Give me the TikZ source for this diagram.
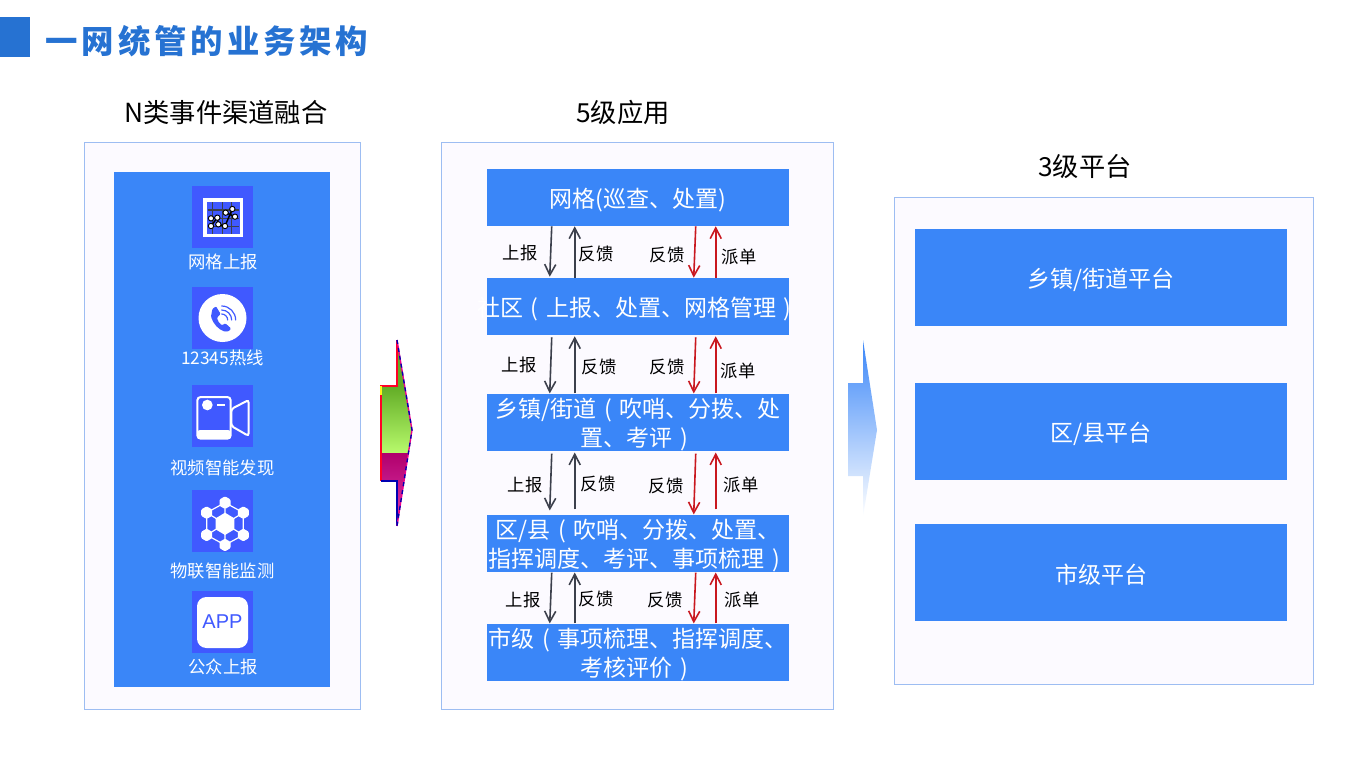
\documentclass[tikz,border=0pt]{standalone}
\usepackage{fontspec}
\setmainfont{Noto Sans CJK SC}
\newfontfamily\latinapp{Liberation Sans}
\usetikzlibrary{arrows.meta,calc,shapes.geometric}
\definecolor{boxblue}{HTML}{3A86F8}
\definecolor{iconblue}{HTML}{4059FF}
\definecolor{paneledge}{HTML}{9DBDF2}
\definecolor{panelfill}{HTML}{FCFAFF}
\definecolor{titleblue}{HTML}{2672D2}
\definecolor{arrdark}{HTML}{3C404C}
\definecolor{arrred}{HTML}{C9181F}
\definecolor{gtop}{HTML}{62AC26}
\definecolor{gbot}{HTML}{B8FA6C}
\definecolor{mtop}{HTML}{B0006C}
\definecolor{mbot}{HTML}{E23CB0}
\newcommand{\ovl}[1]{\makebox[0pt][c]{#1}}
\newcommand{\lpn}{\makebox[1em][c]{(}}
\newcommand{\rpn}{\makebox[1em][c]{)}}
\newcommand{\topstrut}{\rule{0pt}{18pt}}
\tikzset{
  panel/.style={draw=paneledge,fill=panelfill,line width=.75pt,inner sep=0pt},
  lvlbox/.style={fill=boxblue,draw=none,inner sep=0pt,minimum width=226.5pt,minimum height=42.75pt,text=white,align=center,font=\fontsize{17.25pt}{21.75pt}\selectfont},
  platbox/.style={fill=boxblue,draw=none,inner sep=0pt,minimum width=279pt,minimum height=72.75pt,text=white,align=center,font=\fontsize{17.25pt}{21.75pt}\selectfont},
  iconbg/.style={fill=iconblue,draw=none,inner sep=0pt,minimum width=45.75pt,minimum height=46.5pt},
  iconlbl/.style={text=white,inner sep=0pt,yshift=-.75pt,font=\fontsize{13pt}{15pt}\selectfont},
  heading/.style={text=black,inner sep=0pt,font=\fontsize{19.7pt}{23pt}\selectfont},
  small/.style={text=black,inner sep=0pt,yshift=-.75pt,font=\fontsize{13pt}{15pt}\selectfont},
  arrowd/.style={draw=arrdark,line width=1.2pt,-{Straight Barb[length=8pt,width=9pt,angle'=55]}},
  arrowr/.style={draw=arrred,line width=1.2pt,-{Straight Barb[length=8pt,width=9pt,angle'=55]}},
  zoomA/.style={shift={(110,170)},x=.25pt,y=-.25pt},
  zoomB/.style={shift={(110,440)},x=.25pt,y=-.25pt},
}
\begin{document}
\begin{tikzpicture}[x=.75pt,y=-.75pt]
\useasboundingbox (0,0) rectangle (1371,768);
% title
\fill[titleblue] (0,17) rectangle (30,57);
\node[text=titleblue,inner sep=0pt,font=\fontsize{24.3pt}{28pt}\bfseries\addfontfeature{LetterSpace=12}] (title) at (207,41) {一网统管的业务架构};
% headings
\node[heading] (h1) at (226,113) {N类事件渠道融合};
\node[heading] (h2) at (623,113) {5级应用};
\node[heading] (h3) at (1085,166) {3级平台};
% panels
\draw[panel] (84.5,142.5) rectangle (360,709.5);
\draw[panel] (441,142.5) rectangle (833.5,709.5);
\draw[panel] (894,197.5) rectangle (1313.5,684);
\fill[boxblue] (114,172) rectangle (330,687);
% icon backgrounds
\node[iconbg] (i1) at (222.5,217) {};
\node[iconbg] (i2) at (222.5,318) {};
\node[iconbg] (i3) at (222.5,416) {};
\node[iconbg] (i4) at (222.5,521) {};
\node[iconbg] (i5) at (222.5,622) {};
% icon 1: grid chart
\begin{scope}[zoomA]
  \draw[white,line width=2.4pt] (285,90) rectangle (394,197);
  \draw[arrdark,line width=.9pt] (308,96)--(308,191) (337,96)--(337,191) (365,96)--(365,191)
     (293,120)--(386,120) (293,145)--(386,145) (293,170)--(386,170);
  \draw[black,line width=1.1pt] (303,168)--(322,143)--(325,163)--(345,168)--(367,117) (303,145)--(322,143) (347,128)--(375,140);
  \foreach \p in {(303,145),(322,143),(303,168),(325,163),(345,168),(347,128),(375,140),(367,117)}
    \draw[black,fill=white,line width=.7pt] \p circle (8);
\end{scope}
% icon 2: phone
\fill[white] (222.5,318) circle (24);
\begin{scope}[zoomA]
  \fill[iconblue,rounded corners=.8pt] (318,409)--(307,417)--(303,440) .. controls (310,462) and (325,478) .. (345,485) --(358,483)--(363,475)--(346,460)--(336,466) .. controls (328,460) and (323,452) .. (321,443)--(332,432)--cycle;
  \draw[iconblue,line width=.9pt,line cap=round] (335,432) arc (-90:0:18);
  \draw[iconblue,line width=.9pt,line cap=round] (335,420) arc (-90:0:30);
  \draw[iconblue,line width=.9pt,line cap=round] (335,408) arc (-90:0:42);
\end{scope}
% icon 3: camera
\begin{scope}[zoomA]
  \draw[white,line width=1.5pt,rounded corners=2.5pt,fill=iconblue] (262,681) rectangle (362,806);
  \fill[white,rounded corners=2pt] (262,780) rectangle (362,806);
  \fill[white] (292,705) circle (16);
  \draw[white,line width=1.5pt] (322,705)--(345,705);
  \draw[white,line width=1.5pt,rounded corners=2pt] (364,717)--(416,690)--(416,798)--(364,768)--cycle;
\end{scope}
% icon 4: hexagon network
\begin{scope}[zoomB]
  \draw[white,line width=.9pt] (345,188)--(400,218)--(400,285)--(345,315)--(290,285)--(290,218)--cycle;
  \draw[white,line width=.9pt] (345,188)--(345,315) (400,218)--(290,285) (400,285)--(290,218);
  \foreach \c in {(345,188),(400,218),(400,285),(345,315),(290,285),(290,218)}
    \fill[white,rounded corners=.8pt] \c ++(0,-19) -- ++(16.5,9.5) -- ++(0,19) -- ++(-16.5,9.5) -- ++(-16.5,-9.5) -- ++(0,-19) -- cycle;
  \fill[white] (345,218) -- (373,235) -- (373,268) -- (345,285) -- (317,268) -- (317,235) -- cycle;
\end{scope}
% icon 5: APP
\fill[white,rounded corners=7pt] (197,597) rectangle (248,648);
\node[text=iconblue,inner sep=0pt,font=\latinapp\fontsize{15pt}{17pt}\selectfont] (applbl) at (222.5,622) {APP};
% icon labels
\node[iconlbl] (l1) at (223,261) {网格上报};
\node[iconlbl] (l2) at (222.5,357) {12345热线};
\node[iconlbl] (l3) at (222.5,467) {视频智能发现};
\node[iconlbl] (l4) at (222.5,570) {物联智能监测};
\node[iconlbl] (l5) at (223,666) {公众上报};
% level boxes
\node[lvlbox] (n1) at (638,197.5) {\topstrut\ovl{网格(巡查、处置)}};
\node[lvlbox] (n2) at (638,306.5) {\topstrut\ovl{社区\lpn 上报、处置、网格管理\rpn}};
\node[lvlbox] (n3) at (638,422.5) {\topstrut\ovl{乡镇/街道\lpn 吹哨、分拨、处}\\\ovl{置、考评\rpn}};
\node[lvlbox] (n4) at (638,543.5) {\topstrut\ovl{区/县\lpn 吹哨、分拨、处置、}\\\ovl{指挥调度、考评、事项梳理\rpn}};
\node[lvlbox] (n5) at (638,652.5) {\topstrut\ovl{市级\lpn 事项梳理、指挥调度、}\\\ovl{考核评价\rpn}};
% connectors between levels
\foreach \a/\b/\ds/\de/\us/\ue in {n1/n2/0/-1/0/0,n2/n3/2/0/0/1,n3/n4/2/-4/-5/1,n4/n5/0/0/0/0}{
  \draw[arrowd] ($(\a.south west)+(65,\ds)$) -- ($(\b.north west)+(63,\de)$);
  \draw[arrowd] ($(\b.north west)+(88,\us)$) -- ($(\a.south west)+(88,\ue)$);
  \draw[arrowr] ($(\a.south west)+(209,\ds)$) -- ($(\b.north west)+(207,0)$);
  \draw[arrowr] ($(\b.north west)+(229,\us)$) -- ($(\a.south west)+(229,\ue)$);
}
% connector labels
\foreach \t/\x/\y [count=\i] in {上报/520/252,反馈/596/253,反馈/667/254,派单/739/256,
  上报/519/364,反馈/599/366,反馈/667/366,派单/738/370,
  上报/525/484,反馈/598/483,反馈/666/485,派单/741/484,
  上报/523/599,反馈/596/598,反馈/665/599,派单/742/599}
  \node[small] (c\i) at (\x,\y) {\t};
% platform boxes
\node[platbox] (p1) at (1101,277.5) {\topstrut\ovl{乡镇/街道平台}};
\node[platbox] (p2) at (1101,431.5) {\topstrut\ovl{区/县平台}};
\node[platbox] (p3) at (1101,572.5) {\topstrut\ovl{市级平台}};
% big multi-colour arrow
\begin{scope}
  \clip (397,340)--(397,386)--(381,386)--(381,481)--(397,481)--(397,526)--(412,430)--cycle;
  \shade[top color=gtop,bottom color=gbot] (375,386) rectangle (415,453);
  \fill[gtop] (375,340) rectangle (415,386);
  \shade[top color=mtop,bottom color=mbot] (375,453) rectangle (415,526);
\end{scope}
\draw[red!85!magenta,line width=1pt] (397,340)--(397,386)--(381,386)--(381,481);
\draw[blue!70!black,line width=1pt] (381,481)--(397,481)--(397,526);
\draw[yellow!90!white,line width=.8pt] (381,386)--(381,395);
\draw[magenta,line width=1pt] (397,340)--(412,430)--(397,526);
\draw[blue!70!black,line width=1pt,dash pattern=on 3pt off 3pt] (397,340)--(412,430)--(397,526);
% light-blue arrow
\begin{scope}
  \clip (863,340)--(863,383)--(848,383)--(848,476)--(863,476)--(863,517)--(877,430)--cycle;
  \shade[top color=boxblue,bottom color=white] (845,340) rectangle (880,517);
\end{scope}
\end{tikzpicture}
\end{document}
